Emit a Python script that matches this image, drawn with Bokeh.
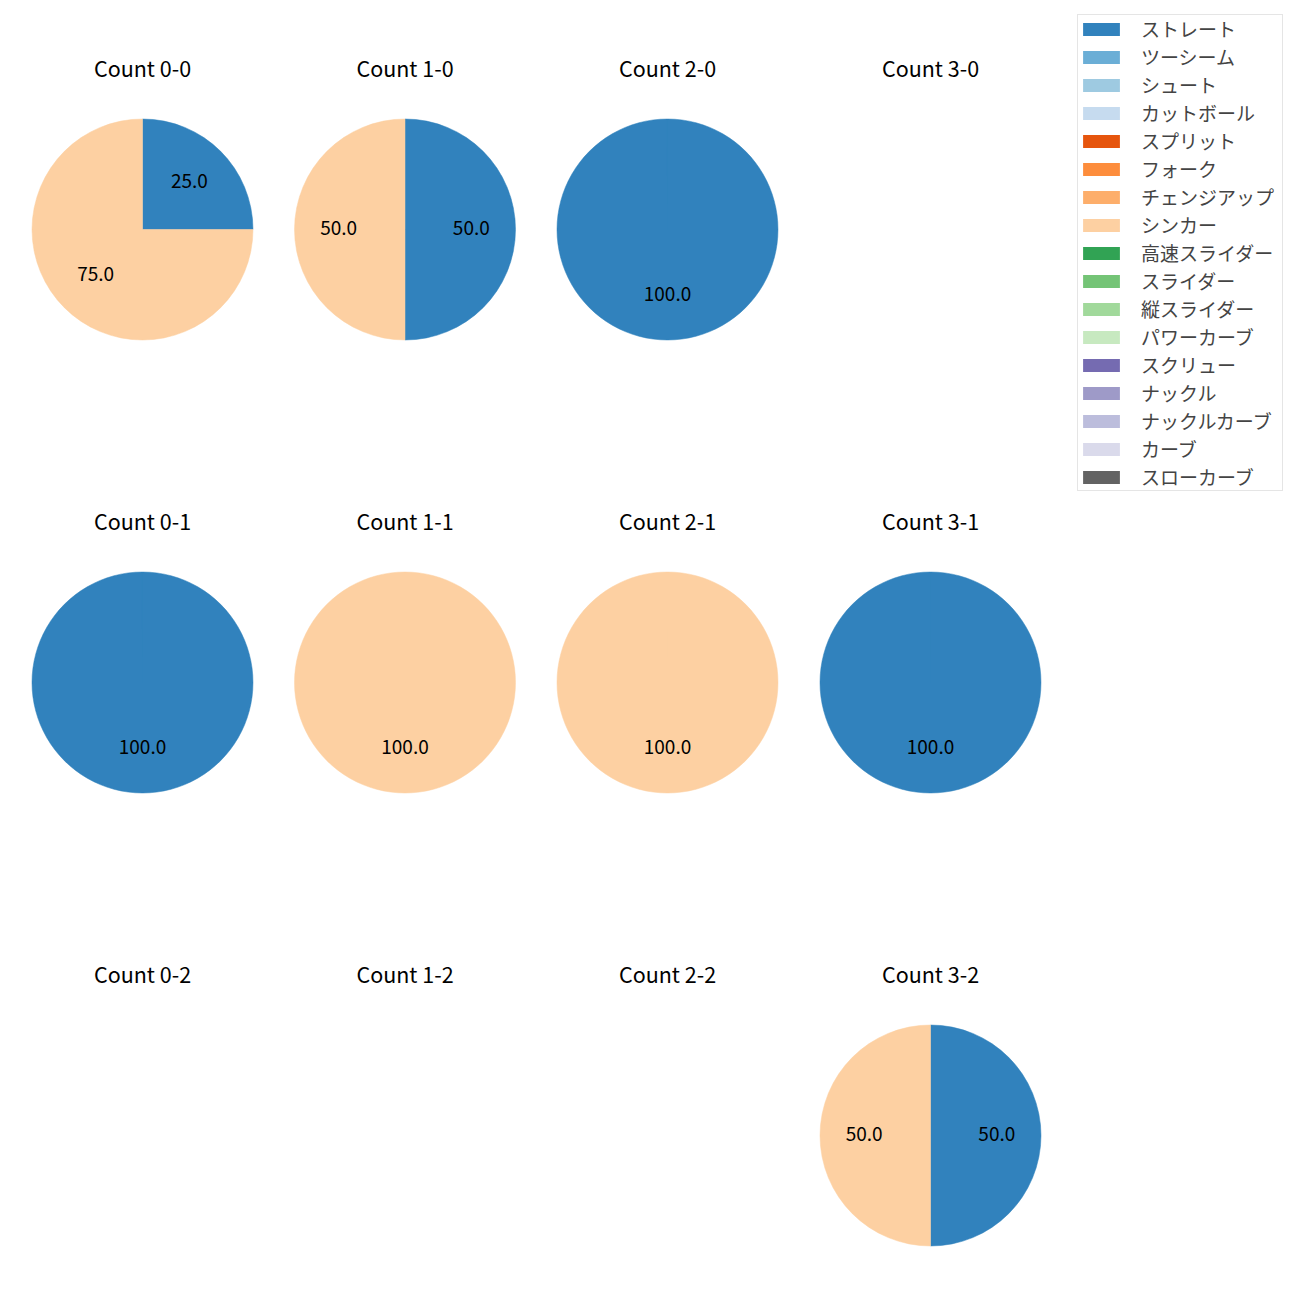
import math
from bokeh.plotting import figure
from bokeh.models import Range1d, ColumnDataSource, Legend, LegendItem
from bokeh.core.properties import value
from bokeh.embed import file_html
from bokeh.resources import INLINE

# ---- data ----
pitch_types = ["ストレート", "ツーシーム", "シュート", "カットボール", "スプリット", "フォーク",
               "チェンジアップ", "シンカー", "高速スライダー", "スライダー", "縦スライダー",
               "パワーカーブ", "スクリュー", "ナックル", "ナックルカーブ", "カーブ", "スローカーブ"]
pitch_colors = ["#3182bd", "#6baed6", "#9ecae1", "#c6dbef", "#e6550d", "#fd8d3c",
                "#fdae6b", "#fdd0a2", "#31a354", "#74c476", "#a1d99b",
                "#c7e9c0", "#756bb1", "#9e9ac8", "#bcbddc", "#dadaeb", "#636363"]
count_labels = ["0-0", "1-0", "2-0", "3-0",
                "0-1", "1-1", "2-1", "3-1",
                "0-2", "1-2", "2-2", "3-2"]
straight_pct = [25, 50, 100, 0, 100, 0, 0, 100, 0, 0, 0, 50]
sinker_pct = [75, 50, 0, 0, 0, 100, 100, 0, 0, 0, 0, 50]

# ---- layout ----
W = 1284
H = 1284
FONT = "Noto Sans CJK JP"
col_x = [142, 404.5, 667, 930]
row_y = [229, 682, 1135]
R = 110.5

def X(rx):
    return rx

def Y(ry):
    return H - ry

p = figure(width=W, height=H, output_backend="svg", toolbar_location=None,
           x_range=Range1d(0, W), y_range=Range1d(0, H),
           x_axis_location=None, y_axis_location=None, min_border=0)
p.grid.visible = False
p.outline_line_color = None
p.background_fill_color = "white"
p.border_fill_color = "white"

wx, wy, ws, we, wc = [], [], [], [], []
tx, ty, tt = [], [], []
hx, hy, ht = [], [], []

for i, lab in enumerate(count_labels):
    r, c = divmod(i, 4)
    cx, cy = col_x[c], row_y[r]
    hx.append(X(cx)); hy.append(Y(cy - 162)); ht.append("Count " + lab)
    vals = [(straight_pct[i], pitch_colors[0]), (sinker_pct[i], pitch_colors[7])]
    total = sum(v for v, _ in vals)
    if total == 0:
        continue
    cum = 0.0
    for v, col in vals:
        if v == 0:
            continue
        f0 = cum / total
        f1 = (cum + v) / total
        cum += v
        a_end = math.radians(90 - f0 * 360)
        a_start = math.radians(90 - f1 * 360)
        if f1 - f0 >= 0.9999:
            a_start = a_end - 2 * math.pi + 1e-4
        wx.append(X(cx)); wy.append(Y(cy)); ws.append(a_start); we.append(a_end); wc.append(col)
        mid = math.radians(90 - (f0 + f1) / 2 * 360)
        tx.append(X(cx) + 0.6 * R * math.cos(mid))
        ty.append(Y(cy) + 0.6 * R * math.sin(mid) + 2)
        tt.append("%.1f" % (100.0 * v / total))

p.wedge(x="x", y="y", radius=R, start_angle="s", end_angle="e", fill_color="c",
        line_color="c", line_width=0.5,
        source=ColumnDataSource(dict(x=wx, y=wy, s=ws, e=we, c=wc)))
p.text(x=tx, y=ty, text=tt, text_align="center", text_baseline="middle",
       text_font=value(FONT), text_font_size="19px", text_color="black")
p.text(x=hx, y=hy, text=ht, text_align="center", text_baseline="middle",
       text_font=value(FONT), text_font_size="21.5px", text_color="black")

# legend with proxy renderers placed outside the visible range
items = []
for name, col in zip(pitch_types, pitch_colors):
    rr = p.quad(left=[-50], right=[-40], top=[-40], bottom=[-50], fill_color=col, line_color=None)
    items.append(LegendItem(label=name, renderers=[rr]))

legend = Legend(items=items, location=(1077, H - 491),
                label_text_font=FONT, label_text_font_size="19px",
                glyph_width=46, glyph_height=16, label_height=20, label_width=141,
                spacing=1, padding=0, label_standoff=17,
                border_line_color="#cccccc", border_line_width=1,
                background_fill_alpha=1.0)
legend.margin = 0
p.add_layout(legend, "center")

open("out.html", "w").write(file_html(p, INLINE))
